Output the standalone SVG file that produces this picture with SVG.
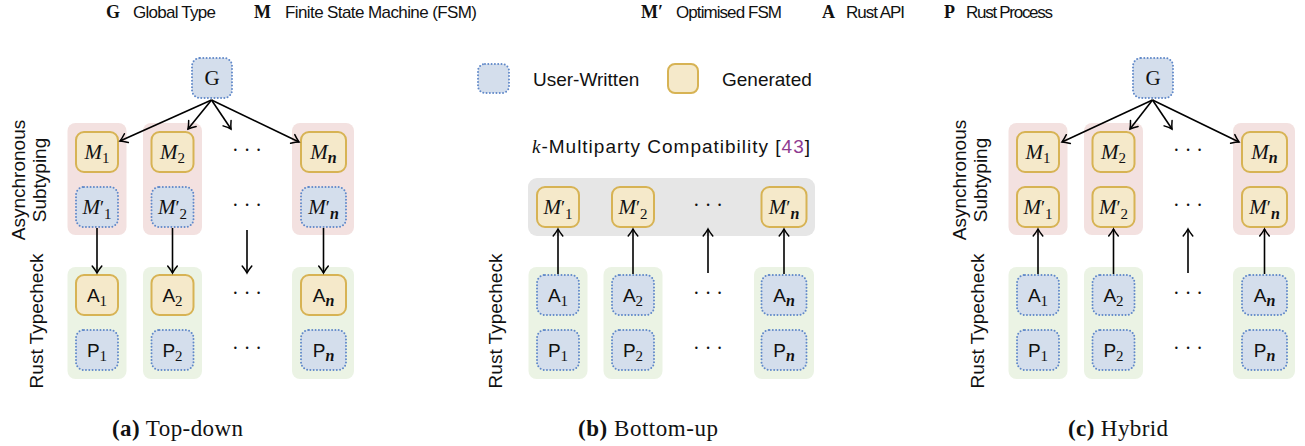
<svg xmlns="http://www.w3.org/2000/svg" width="1305" height="446" viewBox="0 0 1305 446">
<defs>
<style>
.pink{fill:#f3e1e0}
.green{fill:#ebf3e4}
.gray{fill:#e6e6e6}
.gen{fill:#f5e9ca;stroke:#d7b354;stroke-width:2}
.usr{fill:#d4deec;stroke:#6189c9;stroke-width:2;stroke-dasharray:0 3.3;stroke-linecap:round}
.lab{font-family:"Liberation Serif","DejaVu Serif",serif;font-size:21px;text-anchor:middle;fill:#111}
.mi{font-style:italic}
.sub{font-size:15px}
.subn{font-size:16px;font-style:italic;font-weight:bold}
.pr{font-size:19px}
.sl{font-family:"Liberation Sans","DejaVu Sans",sans-serif;font-size:19px}
.dots{font-family:"Liberation Serif","DejaVu Serif",serif;font-size:20px;text-anchor:middle;fill:#111}
.conn line{stroke:#000;stroke-width:1.6;fill:none}
.leg{font-family:"Liberation Sans","DejaVu Sans",sans-serif;font-size:17px;fill:#111}
.legb{font-family:"Liberation Serif","DejaVu Serif",serif;font-size:18px;font-weight:bold;fill:#111}
.rot{font-family:"Liberation Sans","DejaVu Sans",sans-serif;font-size:19px;text-anchor:middle;fill:#111}
.txt{font-family:"Liberation Sans","DejaVu Sans",sans-serif;font-size:19px;fill:#111}
.cap{font-family:"Liberation Serif","DejaVu Serif",serif;font-size:23px;text-anchor:middle;fill:#111}
</style>
<marker id="ah" markerUnits="userSpaceOnUse" markerWidth="16" markerHeight="16" viewBox="-9 -8 11 16" refX="0" refY="0" orient="auto">
<path d="M-7,-4.8 Q-2.8,-1.4 0,0 Q-2.8,1.4 -7,4.8" fill="none" stroke="#000" stroke-width="1.5" stroke-linecap="round"/>
</marker>
</defs>
<rect width="1305" height="446" fill="#fff"/>

<!-- top legend -->
<g id="legend-top">
<text class="legb" x="106" y="18">G</text>
<text class="leg" x="133" y="18" textLength="83">Global Type</text>
<text class="legb" x="254" y="18">M</text>
<text class="leg" x="285" y="18" textLength="192">Finite State Machine (FSM)</text>
<text class="legb" x="641" y="18">M′</text>
<text class="leg" x="676" y="18" textLength="106">Optimised FSM</text>
<text class="legb" x="822" y="18">A</text>
<text class="leg" x="846" y="18" textLength="59">Rust API</text>
<text class="legb" x="944" y="18">P</text>
<text class="leg" x="966" y="18" textLength="87">Rust Process</text>
</g>

<!-- ================= Panel (a) ================= -->
<g id="panel-a">
<g id="a-stages">
<rect class="pink" x="67.5" y="123" width="59" height="112" rx="8"/>
<rect class="pink" x="143" y="123" width="59" height="112" rx="8"/>
<rect class="pink" x="292" y="123" width="62" height="112" rx="8"/>
<rect class="green" x="67.5" y="267" width="59" height="112" rx="8"/>
<rect class="green" x="143" y="267" width="59" height="112" rx="8"/>
<rect class="green" x="292" y="267" width="62" height="112" rx="8"/>
<text class="rot" transform="translate(25 180) rotate(-90)">Asynchronous</text>
<text class="rot" transform="translate(46 180) rotate(-90)">Subtyping</text>
<text class="rot" transform="translate(43 321) rotate(-90)">Rust Typecheck</text>
</g>
<g id="a-G"><rect class="usr" x="192" y="58" width="40" height="40" rx="8"/><text class="lab" x="212" y="85">G</text></g>
<g id="a-M1"><rect class="gen" x="76" y="132" width="42" height="40" rx="8"/><text class="lab" x="97" y="159"><tspan class="mi">M</tspan><tspan class="sub" dy="4">1</tspan></text></g>
<g id="a-M2"><rect class="gen" x="151.5" y="132" width="42" height="40" rx="8"/><text class="lab" x="172.5" y="159"><tspan class="mi">M</tspan><tspan class="sub" dy="4">2</tspan></text></g>
<g id="a-Mn"><rect class="gen" x="301" y="132" width="45" height="40" rx="8"/><text class="lab" x="323.5" y="159"><tspan class="mi">M</tspan><tspan class="subn" dy="4">n</tspan></text></g>
<g id="a-Mp1"><rect class="usr" x="76" y="187" width="42" height="40" rx="8"/><text class="lab" x="97" y="214"><tspan class="mi">M</tspan><tspan class="pr">′</tspan><tspan class="sub" dy="5">1</tspan></text></g>
<g id="a-Mp2"><rect class="usr" x="151.5" y="187" width="42" height="40" rx="8"/><text class="lab" x="172.5" y="214"><tspan class="mi">M</tspan><tspan class="pr">′</tspan><tspan class="sub" dy="5">2</tspan></text></g>
<g id="a-Mpn"><rect class="usr" x="301" y="187" width="45" height="40" rx="8"/><text class="lab" x="323.5" y="214"><tspan class="mi">M</tspan><tspan class="pr">′</tspan><tspan class="subn" dy="5">n</tspan></text></g>
<g id="a-A1"><rect class="gen" x="76" y="275" width="42" height="40" rx="8"/><text class="lab" x="97" y="302"><tspan class="sl">A</tspan><tspan class="sub" dy="4">1</tspan></text></g>
<g id="a-A2"><rect class="gen" x="151.5" y="275" width="42" height="40" rx="8"/><text class="lab" x="172.5" y="302"><tspan class="sl">A</tspan><tspan class="sub" dy="4">2</tspan></text></g>
<g id="a-An"><rect class="gen" x="301" y="275" width="45" height="40" rx="8"/><text class="lab" x="323.5" y="302"><tspan class="sl">A</tspan><tspan class="subn" dy="4">n</tspan></text></g>
<g id="a-P1"><rect class="usr" x="76" y="330" width="42" height="40" rx="8"/><text class="lab" x="97" y="357"><tspan class="sl">P</tspan><tspan class="sub" dy="4">1</tspan></text></g>
<g id="a-P2"><rect class="usr" x="151.5" y="330" width="42" height="40" rx="8"/><text class="lab" x="172.5" y="357"><tspan class="sl">P</tspan><tspan class="sub" dy="4">2</tspan></text></g>
<g id="a-Pn"><rect class="usr" x="301" y="330" width="45" height="40" rx="8"/><text class="lab" x="323.5" y="357"><tspan class="sl">P</tspan><tspan class="subn" dy="4">n</tspan></text></g>
<g id="a-dots">
<text class="dots" x="247" y="157">· · ·</text>
<text class="dots" x="247" y="212">· · ·</text>
<text class="dots" x="247" y="300">· · ·</text>
<text class="dots" x="247" y="355">· · ·</text>
</g>
<g id="a-connectors" class="conn">
<line x1="211.5" y1="100" x2="120" y2="141" marker-end="url(#ah)"/>
<line x1="211.5" y1="100" x2="188" y2="129" marker-end="url(#ah)"/>
<line x1="211.5" y1="100" x2="231" y2="129" marker-end="url(#ah)"/>
<line x1="211.5" y1="100" x2="299" y2="142" marker-end="url(#ah)"/>
<line x1="97" y1="228" x2="97" y2="273" marker-end="url(#ah)"/>
<line x1="172.5" y1="228" x2="172.5" y2="273" marker-end="url(#ah)"/>
<line x1="247" y1="230" x2="247" y2="273" marker-end="url(#ah)"/>
<line x1="323.5" y1="228" x2="323.5" y2="273" marker-end="url(#ah)"/>
</g>
<text class="cap" x="177.5" y="436" textLength="131"><tspan font-weight="bold">(a)</tspan> Top-down</text>
</g>

<!-- ================= Panel (b) ================= -->
<g id="panel-b">
<g id="b-legend">
<rect class="usr" x="478" y="64" width="31" height="29" rx="7"/>
<text class="txt" x="533" y="86">User-Written</text>
<rect class="gen" x="668" y="64" width="30" height="29" rx="7"/>
<text class="txt" x="722" y="86">Generated</text>
</g>
<g id="b-stages">
<text class="txt" x="532" y="153" font-size="20" textLength="278"><tspan font-family="Liberation Serif, serif" font-style="italic">k</tspan>-Multiparty Compatibility [<tspan fill="#8e3b91">43</tspan>]</text>
<rect class="gray" x="528" y="178" width="287" height="58" rx="9"/>
<rect class="green" x="528.5" y="267" width="59" height="112" rx="8"/>
<rect class="green" x="603.5" y="267" width="59" height="112" rx="8"/>
<rect class="green" x="754" y="267" width="60" height="112" rx="8"/>
<text class="rot" transform="translate(502 321) rotate(-90)">Rust Typecheck</text>
</g>
<g id="b-Mp1"><rect class="gen" x="537" y="187" width="42" height="40" rx="8"/><text class="lab" x="558" y="214"><tspan class="mi">M</tspan><tspan class="pr">′</tspan><tspan class="sub" dy="5">1</tspan></text></g>
<g id="b-Mp2"><rect class="gen" x="612" y="187" width="42" height="40" rx="8"/><text class="lab" x="633" y="214"><tspan class="mi">M</tspan><tspan class="pr">′</tspan><tspan class="sub" dy="5">2</tspan></text></g>
<g id="b-Mpn"><rect class="gen" x="761.5" y="187" width="45" height="40" rx="8"/><text class="lab" x="784" y="214"><tspan class="mi">M</tspan><tspan class="pr">′</tspan><tspan class="subn" dy="5">n</tspan></text></g>
<g id="b-A1"><rect class="usr" x="537" y="275" width="42" height="40" rx="8"/><text class="lab" x="558" y="302"><tspan class="sl">A</tspan><tspan class="sub" dy="4">1</tspan></text></g>
<g id="b-A2"><rect class="usr" x="612" y="275" width="42" height="40" rx="8"/><text class="lab" x="633" y="302"><tspan class="sl">A</tspan><tspan class="sub" dy="4">2</tspan></text></g>
<g id="b-An"><rect class="usr" x="761.5" y="275" width="45" height="40" rx="8"/><text class="lab" x="784" y="302"><tspan class="sl">A</tspan><tspan class="subn" dy="4">n</tspan></text></g>
<g id="b-P1"><rect class="usr" x="537" y="330" width="42" height="40" rx="8"/><text class="lab" x="558" y="357"><tspan class="sl">P</tspan><tspan class="sub" dy="4">1</tspan></text></g>
<g id="b-P2"><rect class="usr" x="612" y="330" width="42" height="40" rx="8"/><text class="lab" x="633" y="357"><tspan class="sl">P</tspan><tspan class="sub" dy="4">2</tspan></text></g>
<g id="b-Pn"><rect class="usr" x="761.5" y="330" width="45" height="40" rx="8"/><text class="lab" x="784" y="357"><tspan class="sl">P</tspan><tspan class="subn" dy="4">n</tspan></text></g>
<g id="b-dots">
<text class="dots" x="708" y="212">· · ·</text>
<text class="dots" x="708" y="300">· · ·</text>
<text class="dots" x="708" y="355">· · ·</text>
</g>
<g id="b-connectors" class="conn">
<line x1="558" y1="274" x2="558" y2="229" marker-end="url(#ah)"/>
<line x1="633" y1="274" x2="633" y2="229" marker-end="url(#ah)"/>
<line x1="708" y1="273" x2="708" y2="229" marker-end="url(#ah)"/>
<line x1="784" y1="274" x2="784" y2="229" marker-end="url(#ah)"/>
</g>
<text class="cap" x="648" y="436" textLength="140"><tspan font-weight="bold">(b)</tspan> Bottom-up</text>
</g>

<!-- ================= Panel (c) ================= -->
<g id="panel-c" transform="translate(941 0)">
<g id="c-stages">
<rect class="pink" x="67.5" y="123" width="59" height="112" rx="8"/>
<rect class="pink" x="143" y="123" width="59" height="112" rx="8"/>
<rect class="pink" x="292" y="123" width="62" height="112" rx="8"/>
<rect class="green" x="67.5" y="267" width="59" height="112" rx="8"/>
<rect class="green" x="143" y="267" width="59" height="112" rx="8"/>
<rect class="green" x="292" y="267" width="62" height="112" rx="8"/>
<text class="rot" transform="translate(25 180) rotate(-90)">Asynchronous</text>
<text class="rot" transform="translate(46 180) rotate(-90)">Subtyping</text>
<text class="rot" transform="translate(43 321) rotate(-90)">Rust Typecheck</text>
</g>
<g id="c-G"><rect class="usr" x="192" y="58" width="40" height="40" rx="8"/><text class="lab" x="212" y="85">G</text></g>
<g id="c-M1"><rect class="gen" x="76" y="132" width="42" height="40" rx="8"/><text class="lab" x="97" y="159"><tspan class="mi">M</tspan><tspan class="sub" dy="4">1</tspan></text></g>
<g id="c-M2"><rect class="gen" x="151.5" y="132" width="42" height="40" rx="8"/><text class="lab" x="172.5" y="159"><tspan class="mi">M</tspan><tspan class="sub" dy="4">2</tspan></text></g>
<g id="c-Mn"><rect class="gen" x="301" y="132" width="45" height="40" rx="8"/><text class="lab" x="323.5" y="159"><tspan class="mi">M</tspan><tspan class="subn" dy="4">n</tspan></text></g>
<g id="c-Mp1"><rect class="gen" x="76" y="187" width="42" height="40" rx="8"/><text class="lab" x="97" y="214"><tspan class="mi">M</tspan><tspan class="pr">′</tspan><tspan class="sub" dy="5">1</tspan></text></g>
<g id="c-Mp2"><rect class="gen" x="151.5" y="187" width="42" height="40" rx="8"/><text class="lab" x="172.5" y="214"><tspan class="mi">M</tspan><tspan class="pr">′</tspan><tspan class="sub" dy="5">2</tspan></text></g>
<g id="c-Mpn"><rect class="gen" x="301" y="187" width="45" height="40" rx="8"/><text class="lab" x="323.5" y="214"><tspan class="mi">M</tspan><tspan class="pr">′</tspan><tspan class="subn" dy="5">n</tspan></text></g>
<g id="c-A1"><rect class="usr" x="76" y="275" width="42" height="40" rx="8"/><text class="lab" x="97" y="302"><tspan class="sl">A</tspan><tspan class="sub" dy="4">1</tspan></text></g>
<g id="c-A2"><rect class="usr" x="151.5" y="275" width="42" height="40" rx="8"/><text class="lab" x="172.5" y="302"><tspan class="sl">A</tspan><tspan class="sub" dy="4">2</tspan></text></g>
<g id="c-An"><rect class="usr" x="301" y="275" width="45" height="40" rx="8"/><text class="lab" x="323.5" y="302"><tspan class="sl">A</tspan><tspan class="subn" dy="4">n</tspan></text></g>
<g id="c-P1"><rect class="usr" x="76" y="330" width="42" height="40" rx="8"/><text class="lab" x="97" y="357"><tspan class="sl">P</tspan><tspan class="sub" dy="4">1</tspan></text></g>
<g id="c-P2"><rect class="usr" x="151.5" y="330" width="42" height="40" rx="8"/><text class="lab" x="172.5" y="357"><tspan class="sl">P</tspan><tspan class="sub" dy="4">2</tspan></text></g>
<g id="c-Pn"><rect class="usr" x="301" y="330" width="45" height="40" rx="8"/><text class="lab" x="323.5" y="357"><tspan class="sl">P</tspan><tspan class="subn" dy="4">n</tspan></text></g>
<g id="c-dots">
<text class="dots" x="247" y="157">· · ·</text>
<text class="dots" x="247" y="212">· · ·</text>
<text class="dots" x="247" y="300">· · ·</text>
<text class="dots" x="247" y="355">· · ·</text>
</g>
<g id="c-connectors" class="conn">
<line x1="211.5" y1="100" x2="121" y2="142" marker-end="url(#ah)"/>
<line x1="211.5" y1="100" x2="189" y2="129" marker-end="url(#ah)"/>
<line x1="211.5" y1="100" x2="231" y2="129" marker-end="url(#ah)"/>
<line x1="211.5" y1="100" x2="298" y2="142" marker-end="url(#ah)"/>
<line x1="97" y1="274" x2="97" y2="229" marker-end="url(#ah)"/>
<line x1="172.5" y1="274" x2="172.5" y2="229" marker-end="url(#ah)"/>
<line x1="247" y1="273" x2="247" y2="229" marker-end="url(#ah)"/>
<line x1="323.5" y1="274" x2="323.5" y2="229" marker-end="url(#ah)"/>
</g>
<text class="cap" x="177" y="436" textLength="100"><tspan font-weight="bold">(c)</tspan> Hybrid</text>
</g>
</svg>
